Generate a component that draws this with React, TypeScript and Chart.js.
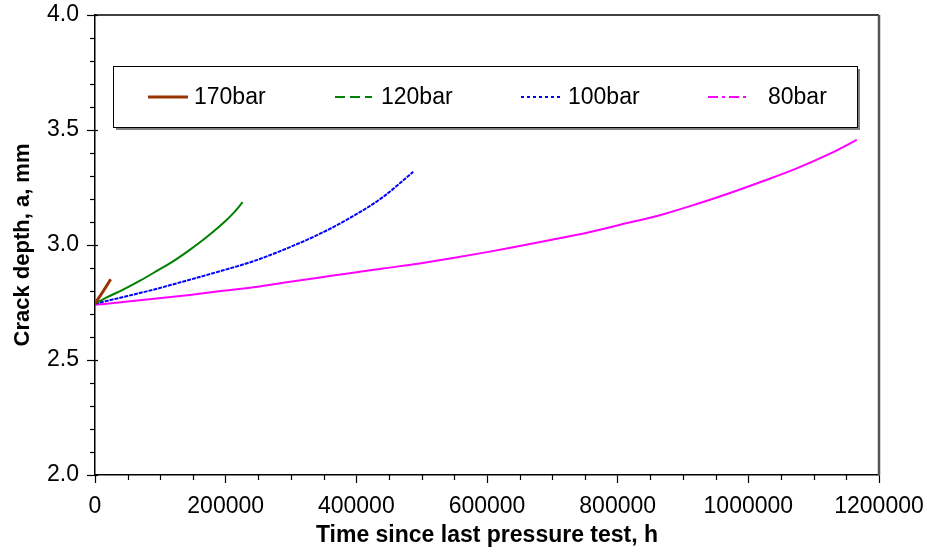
import React, { useEffect, useRef } from "react";
import { Chart, registerables } from "chart.js";

Chart.register(...registerables);

// ---- Data ----
const t170 = [0, 12000, 24000];
const a170 = [2.745, 2.797, 2.851];

const t120 = [0, 18000, 43000, 69000, 94000, 120000, 145000, 171000, 201000, 214000, 226000];
const a120 = [2.745, 2.772, 2.806, 2.845, 2.886, 2.93, 2.979, 3.035, 3.108, 3.145, 3.186];

const t100 = [0, 45000, 95000, 145000, 195000, 245000, 290000, 340000, 390000, 440000, 487000];
const a100 = [2.745, 2.775, 2.81, 2.849, 2.889, 2.932, 2.981, 3.043, 3.117, 3.207, 3.318];

const t80 = [0, 43000, 94000, 145000, 196000, 252000, 288000, 339000, 390000, 441000, 497000, 548000, 600000, 650000, 701000, 753000, 804000, 870000, 921000, 972000, 1023000, 1074000, 1125000, 1166000];
const a80 = [2.74, 2.752, 2.767, 2.783, 2.801, 2.82, 2.836, 2.857, 2.877, 2.898, 2.92, 2.943, 2.969, 2.996, 3.024, 3.053, 3.088, 3.134, 3.178, 3.226, 3.278, 3.333, 3.397, 3.457];

const seriesLabels = ["170bar", "120bar", "100bar", "80bar"];
const seriesColors = ["#993300", "#008000", "#0000FF", "#FF00FF"];
const legendDash: number[][] = [[], [10, 5], [3, 3], [10, 4, 3, 4]];
const legendWidth = [3, 2, 2, 2];

const xMin = 0;
const xMax = 1200000;
const xStep = 200000;
const xMinorStep = 50000;
const yMin = 2;
const yMax = 4;
const yStep = 0.5;
const yMinorStep = 0.1;

const xTitle = "Time since last pressure test, h";
const yTitle = "Crack depth, a, mm";

const FONT = "'Liberation Sans', Arial, Helvetica, sans-serif";

const toPoints = (t: number[], a: number[]) => t.map((x, i) => ({ x, y: a[i] }));

const framePlugin = {
  id: "frameAndLegend",
  afterDraw(chart: any) {
    const { ctx, chartArea: ca, scales } = chart;
    ctx.save();
    // top border
    ctx.strokeStyle = "#000";
    ctx.lineWidth = 1.5;
    ctx.beginPath();
    ctx.moveTo(ca.left, ca.top);
    ctx.lineTo(ca.right, ca.top);
    ctx.stroke();
    // right border
    ctx.strokeStyle = "#555";
    ctx.lineWidth = 2.5;
    ctx.beginPath();
    ctx.moveTo(ca.right, ca.top);
    ctx.lineTo(ca.right, ca.bottom);
    ctx.stroke();

    // minor ticks
    ctx.strokeStyle = "#000";
    ctx.lineWidth = 1.2;
    const ys = scales.y;
    for (let v = yMin; v <= yMax + 1e-9; v += yMinorStep) {
      const py = Math.round(ys.getPixelForValue(v)) + 0.5;
      const major = Math.abs(v / yStep - Math.round(v / yStep)) < 1e-6;
      ctx.beginPath();
      if (major) {
        ctx.moveTo(ca.left, py);
        ctx.lineTo(ca.left + 3, py);
      } else {
        ctx.moveTo(ca.left - 5, py);
        ctx.lineTo(ca.left, py);
      }
      ctx.stroke();
    }
    const xs = scales.x;
    for (let v = xMin + xMinorStep; v < xMax; v += xMinorStep) {
      if (v % xStep === 0) continue;
      const px = Math.round(xs.getPixelForValue(v)) + 0.5;
      ctx.beginPath();
      ctx.moveTo(px, ca.bottom);
      ctx.lineTo(px, ca.bottom + 5);
      ctx.stroke();
    }

    // legend box
    const bx = 113, by = 66, bw = 744, bh = 61;
    ctx.fillStyle = "#808080";
    ctx.fillRect(bx + 3, by + 3, bw, bh);
    ctx.fillStyle = "#fff";
    ctx.fillRect(bx, by, bw, bh);
    ctx.strokeStyle = "#000";
    ctx.lineWidth = 1;
    ctx.strokeRect(bx + 0.5, by + 0.5, bw, bh);

    const lineStarts = [148, 335, 521, 708];
    const lineEnds = [188, 372, 561, 747];
    const textStarts = [194, 381, 568, 768];
    const ly = 97;
    ctx.font = `23px ${FONT}`;
    ctx.textBaseline = "middle";
    ctx.textAlign = "left";
    chart.data.datasets.forEach((ds: any, i: number) => {
      ctx.strokeStyle = ds.borderColor;
      ctx.lineWidth = legendWidth[i];
      ctx.setLineDash(legendDash[i]);
      ctx.beginPath();
      ctx.moveTo(lineStarts[i], ly);
      ctx.lineTo(lineEnds[i], ly);
      ctx.stroke();
      ctx.setLineDash([]);
      ctx.fillStyle = "#000";
      ctx.fillText(ds.label, textStarts[i], ly + 1);
    });
    ctx.restore();
  },
};

export default function App() {
  const ref = useRef<HTMLCanvasElement | null>(null);

  useEffect(() => {
    if (!ref.current) return;
    const tickFont = { family: FONT, size: 23 };
    const titleFont = { family: FONT, size: 22, weight: "bold" as const };
    const chart = new Chart(ref.current, {
      type: "line",
      data: {
        datasets: [
          { label: seriesLabels[0], data: toPoints(t170, a170), borderColor: seriesColors[0], borderWidth: 3 },
          { label: seriesLabels[1], data: toPoints(t120, a120), borderColor: seriesColors[1], borderWidth: 2 },
          { label: seriesLabels[2], data: toPoints(t100, a100), borderColor: seriesColors[2], borderWidth: 2, borderDash: [4, 1] },
          { label: seriesLabels[3], data: toPoints(t80, a80), borderColor: seriesColors[3], borderWidth: 2 },
        ].map((d) => ({ ...d, pointRadius: 0, fill: false, cubicInterpolationMode: "monotone" as const })),
      },
      options: {
        animation: false,
        responsive: true,
        maintainAspectRatio: false,
        layout: { padding: { top: 15, right: 48, left: 0, bottom: 0 } },
        plugins: { legend: { display: false }, tooltip: { enabled: false } },
        scales: {
          x: {
            type: "linear",
            min: xMin,
            max: xMax,
            afterFit: (s: any) => { s.height = 78; s.paddingLeft = 0; s.paddingRight = 0; },
            ticks: {
              stepSize: xStep,
              autoSkip: false,
              maxRotation: 0,
              color: "#000",
              font: tickFont,
              padding: 10,
              callback: (v: any) => String(v),
            },
            grid: { drawOnChartArea: false, drawTicks: true, tickLength: 8, tickColor: "#000", tickWidth: 1.2 },
            border: { display: true, color: "#000", width: 1.5 },
            title: { display: true, text: xTitle, color: "#000", font: { ...titleFont, size: 23 }, padding: { top: 0, bottom: 4 } },
          },
          y: {
            type: "linear",
            min: yMin,
            max: yMax,
            afterFit: (s: any) => { s.width = 95; s.paddingTop = 0; s.paddingBottom = 0; },
            ticks: {
              stepSize: yStep,
              color: "#000",
              font: tickFont,
              padding: 8,
              callback: (v: any) => Number(v).toFixed(1),
            },
            grid: { drawOnChartArea: false, drawTicks: true, tickLength: 8, tickColor: "#000", tickWidth: 1.2 },
            border: { display: true, color: "#000", width: 1.5 },
            title: { display: true, text: yTitle, color: "#000", font: titleFont, padding: { top: 10, bottom: 0 } },
          },
        },
      },
      plugins: [framePlugin],
    });
    return () => chart.destroy();
  }, []);

  return (
    <div style={{ position: "fixed", left: 0, top: 0, width: 927, height: 553, background: "#fff" }}>
      <canvas ref={ref} />
    </div>
  );
}
